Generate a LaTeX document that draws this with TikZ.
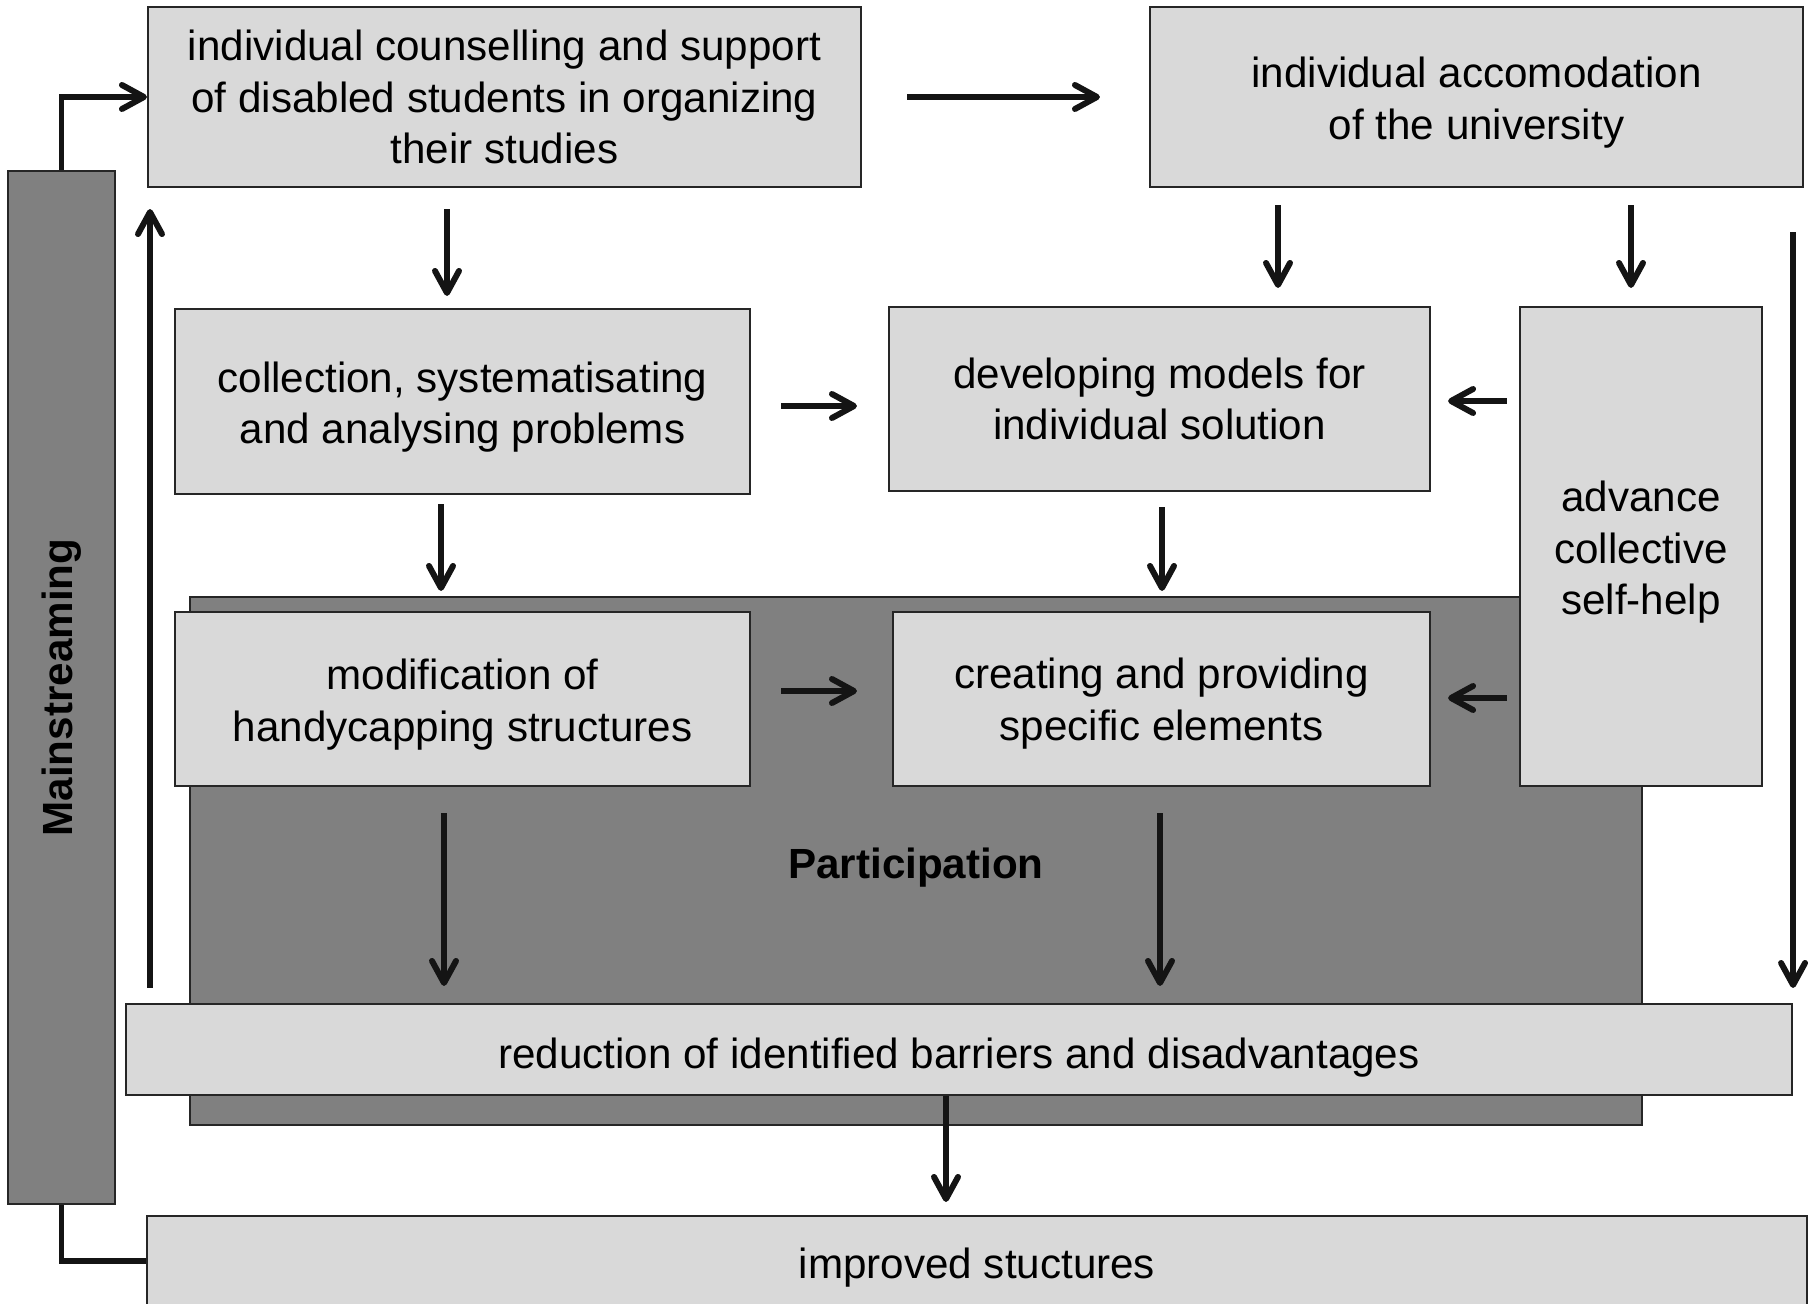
\documentclass[tikz,border=0pt]{standalone}
\usepackage{fontspec}
\setmainfont{Liberation Sans}
\usetikzlibrary{arrows.meta}
\definecolor{boxgray}{HTML}{D9D9D9}
\definecolor{partgray}{HTML}{808080}
\newcommand{\topstrut}[1]{\rule{0pt}{#1}}

\begin{document}
\begin{tikzpicture}[
    x=0.1mm, y=-0.1mm,
    font=\fontsize{12}{14.7}\selectfont,
    block/.style={draw=black!85, line width=0.6pt, fill=boxgray, align=center, inner sep=0pt},
    lowered/.style={execute at begin node={\rule{0pt}{#1}}},
    line/.style={-{Straight Barb[length=2.2mm, width=2.4mm, round]}, line width=1.7pt, black!92}
]
\useasboundingbox (0,0) rectangle (1814,1304);

\node[block, fill=partgray, lowered=12.6pt, minimum width=145.2mm, minimum height=52.8mm, font=\fontsize{12}{14.7}\selectfont\bfseries] (partic) at (916,861) {Participation};
\node[block, minimum width=71.3mm, minimum height=18mm] (counsel) at (504.5,97) {individual counselling and support\\of disabled students in organizing\\their studies};
\node[block, minimum width=65.3mm, minimum height=18mm] (accom) at (1476.5,97) {\topstrut{11.9pt}individual accomodation\\of the university};
\node[block, fill=partgray, minimum width=10.7mm, minimum height=103.3mm] (mainstr) at (61.5,687.5) {\rotatebox{90}{\bfseries Mainstreaming}};
\node[block, minimum width=57.5mm, minimum height=18.5mm] (collect) at (462.5,401.5) {\topstrut{11.9pt}collection, systematisating\\and analysing problems};
\node[block, minimum width=54.1mm, minimum height=18.4mm] (models) at (1159.5,399) {developing models for\\individual solution};
\node[block, minimum width=24.2mm, minimum height=47.9mm] (selfhelp) at (1641,546.5) {\topstrut{11.9pt}advance\\collective\\self-help};
\node[block, minimum width=57.5mm, minimum height=17.4mm] (modif) at (462.5,699) {\topstrut{11.9pt}modification of\\handycapping structures};
\node[block, minimum width=53.7mm, minimum height=17.4mm] (specific) at (1161.5,699) {\topstrut{11.2pt}creating and providing\\specific elements};
\node[block, lowered=13.2pt, minimum width=166.6mm, minimum height=9.1mm] (reduct) at (959,1049.5) {reduction of identified barriers and disadvantages};
\node[block, lowered=12.6pt, minimum width=166mm, minimum height=9mm] (improved) at (977,1261) {improved stuctures};

\draw[line, shorten <=4.5mm, shorten >=4.9mm] (counsel) -- (accom);
\draw[line] (mainstr.north) |- (counsel.west);
\draw[line width=1.7pt, black!92] (mainstr.south) |- (improved.west);
\draw[line, shorten <=2.1mm, shorten >=1.2mm] (counsel.south -| 447,0) -- (collect.north -| 447,0);
\draw[line, shorten <=1.7mm, shorten >=1.8mm] (accom.south -| 1278,0) -- (models.north -| 1278,0);
\draw[line, shorten <=1.7mm, shorten >=1.8mm] (accom.south -| 1631,0) -- (selfhelp.north -| 1631,0);
\draw[line, shorten <=3mm, shorten >=3.1mm] (collect.east |- 0,406) -- (models.west |- 0,406);
\draw[line, shorten <=1.2mm, shorten >=1.7mm] (selfhelp.west |- 0,401) -- (models.east |- 0,401);
\draw[line, shorten <=0.9mm, shorten >=2mm] (collect.south -| 441,0) -- (modif.north -| 441,0);
\draw[line, shorten <=1.5mm, shorten >=2mm] (models.south -| 1162,0) -- (specific.north -| 1162,0);
\draw[line, shorten <=3mm, shorten >=3.5mm] (modif.east |- 0,691) -- (specific.west |- 0,691);
\draw[line, shorten <=1.2mm, shorten >=1.7mm] (selfhelp.west |- 0,698) -- (specific.east |- 0,698);
\draw[line, shorten <=2.6mm, shorten >=1.7mm] (modif.south -| 444,0) -- (reduct.north -| 444,0);
\draw[line, shorten <=2.6mm, shorten >=1.7mm] (specific.south -| 1160,0) -- (reduct.north -| 1160,0);
\draw[line, shorten >=1.3mm] (reduct.south -| 946,0) -- (improved.north -| 946,0);
\draw[line, shorten <=4.4mm, shorten >=1.5mm] (reduct.north east |- accom.south) -- (reduct.north east);
\draw[line, shorten <=1.5mm, shorten >=2.1mm] (reduct.north -| 150,0) -- (counsel.south -| 150,0);
\end{tikzpicture}
\end{document}
